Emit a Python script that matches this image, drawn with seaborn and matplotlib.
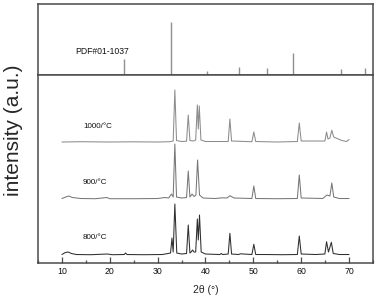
import numpy as np
import pandas as pd
import matplotlib
matplotlib.use("Agg")
import matplotlib.pyplot as plt
from matplotlib.ticker import MultipleLocator
import seaborn as sns

# reference pattern PDF#01-1037 (stick positions / relative heights)
ref_pos = [22.9, 32.7, 40.3, 46.9, 52.8, 58.2, 68.4, 73.3]
ref_int = [16, 53, 4, 8, 7, 22, 6, 7]

tt_1000 = [10, 14, 20, 25, 30, 32.5, 33.25, 33.6, 33.95, 35, 36.05, 36.4, 36.75,
           37.5, 37.95, 38.3, 38.5, 38.7, 39.05, 40, 44.75, 45.1, 45.45, 49.7,
           50.1, 50.5, 55, 59.2, 59.6, 60.0, 64.95, 65.3, 65.6, 66.0, 66.4,
           66.8, 67.5, 68.5, 69.5, 70]
int_1000 = [0, 0.3, 0, 0.2, 0, 0.3, 1, 52, 1.5, 0.5, 0.8, 27, 1.5,
            1, 2, 37, 13, 36, 2, 0.5, 0.5, 23, 1, 0.3,
            10, 0.5, 0, 0.5, 19, 1, 1, 10, 3, 4, 11.7,
            5, 3.5, 1.5, 0.5, 2.5]

tt_900 = [10, 10.8, 11.4, 12.2, 14, 17, 19.4, 20, 25, 30, 31.5, 32.3, 32.9, 33.25,
          33.6, 33.95, 35, 36.05, 36.4, 36.75, 37.2, 37.6, 38.0, 38.35, 38.75,
          39.5, 42, 43.5, 44.5, 45.1, 46, 49.7, 50.1, 50.5, 55, 59.2, 59.6,
          60.0, 62, 64.5, 65.4, 66.0, 66.4, 66.8, 68, 70]
int_900 = [0.5, 2, 3, 1.5, 0.5, 0.3, 1.5, 0.3, 0.3, 0.5, 1.5, 1, 5, 2,
           55, 2, 1, 1.5, 28, 2, 5, 2.5, 4, 39, 4,
           1, 0.5, 1.2, 1, 3.3, 1, 0.5, 13, 0.5, 0.3, 0.5, 24,
           1, 0.8, 0.5, 4, 3, 16, 2, 0.5, 0.5]

tt_800 = [10, 10.7, 11.3, 12, 13, 16, 19.5, 20.5, 23.0, 23.3, 23.6, 27, 31, 32.7,
          33.0, 33.25, 33.6, 34.0, 35, 36.05, 36.4, 36.75, 37.0, 37.3, 37.6,
          37.95, 38.3, 38.5, 38.75, 39.1, 40, 43.0, 43.3, 43.6, 44.75, 45.1,
          45.45, 46.9, 47.3, 49.7, 50.1, 50.5, 52.5, 56, 59.2, 59.6, 60.0, 63,
          64.95, 65.3, 65.7, 66.3, 66.7, 68, 70]
int_800 = [0.5, 2.5, 3, 1.5, 0.5, 0.3, 1, 0.3, 0.5, 2, 0.5, 0.3, 0.5, 2,
           17, 3, 51, 2, 1, 1.5, 30, 2, 3, 5, 3,
           3, 36, 15, 40, 3, 1, 0.5, 1.5, 0.5, 1, 21.7,
           1, 0.5, 1.2, 0.5, 10.7, 0.5, 0.5, 0.3, 0.5, 19, 1, 0.5,
           1, 13.3, 3, 12.7, 1.5, 0.5, 0.5]

samples = ["1000/\u00b0C", "900/\u00b0C", "800/\u00b0C"]
patterns = [(tt_1000, int_1000), (tt_900, int_900), (tt_800, int_800)]

sns.set_theme(style="white")
plt.rcParams["font.family"] = ["Liberation Sans", "DejaVu Sans"]

# vertical stacking of the patterns and label heights
offsets = {samples[0]: 121, samples[1]: 64, samples[2]: 8}
label_y = {samples[0]: 136.3, samples[1]: 80.3, samples[2]: 25.3}
colors = {samples[0]: "#8c8c8c", samples[1]: "#777777", samples[2]: "#2e2e2e"}

frames = []
for name, (tt, inten) in zip(samples, patterns):
    df = pd.DataFrame({"two_theta": tt, "intensity": inten})
    df["sample"] = name
    df["y"] = df["intensity"] + offsets[name]
    frames.append(df)
data = pd.concat(frames, ignore_index=True)

fig = plt.figure(figsize=(3.78, 3.01), dpi=100)
ax_top = fig.add_axes([0.1005, 0.7508, 0.8862, 0.2359])
ax = fig.add_axes([0.1005, 0.1262, 0.8862, 0.6246])

edge = "#4a4a4a"

# top panel: reference sticks
ax_top.vlines(ref_pos, 0, ref_int, color="#8f8f8f", lw=1.0)
ax_top.set_xlim(5, 75)
ax_top.set_ylim(0, 71)
ax_top.set_xticks([])
ax_top.set_yticks([])
ax_top.text(12.7, 23.3, "PDF#01-1037", fontsize=6.2, va="center", ha="left", color="#111111")

# bottom panel: measured patterns
sns.lineplot(data=data, x="two_theta", y="y", hue="sample", palette=colors,
             estimator=None, sort=False, lw=0.75, legend=False, ax=ax)
for name in samples:
    ax.text(14.4, label_y[name], name, fontsize=5.8, va="center", ha="left", color="#111111")

ax.set_xlim(5, 75)
ax.set_ylim(0, 188)
ax.set_yticks([])
ax.xaxis.set_major_locator(MultipleLocator(10))
ax.xaxis.set_minor_locator(MultipleLocator(5))
ax.set_xticks(range(10, 71, 10))
ax.tick_params(axis="x", which="major", direction="in", length=4, width=0.9,
               color=edge, labelsize=6.3, labelcolor="#111111", pad=3,
               bottom=True, top=False)
ax.tick_params(axis="x", which="minor", direction="in", length=2, width=0.9,
               color=edge, bottom=True, top=False)
ax.set_xlabel("2\u03b8 (\u00b0)", fontsize=7.5, labelpad=6)
ax.set_ylabel("")
fig.text(0.037, 0.568, "intensity (a.u.)", rotation=90, fontsize=15,
         ha="center", va="center")

for a in (ax, ax_top):
    for sp in a.spines.values():
        sp.set_color(edge)
        sp.set_linewidth(1.1)

fig.savefig("out.png", dpi=100)
